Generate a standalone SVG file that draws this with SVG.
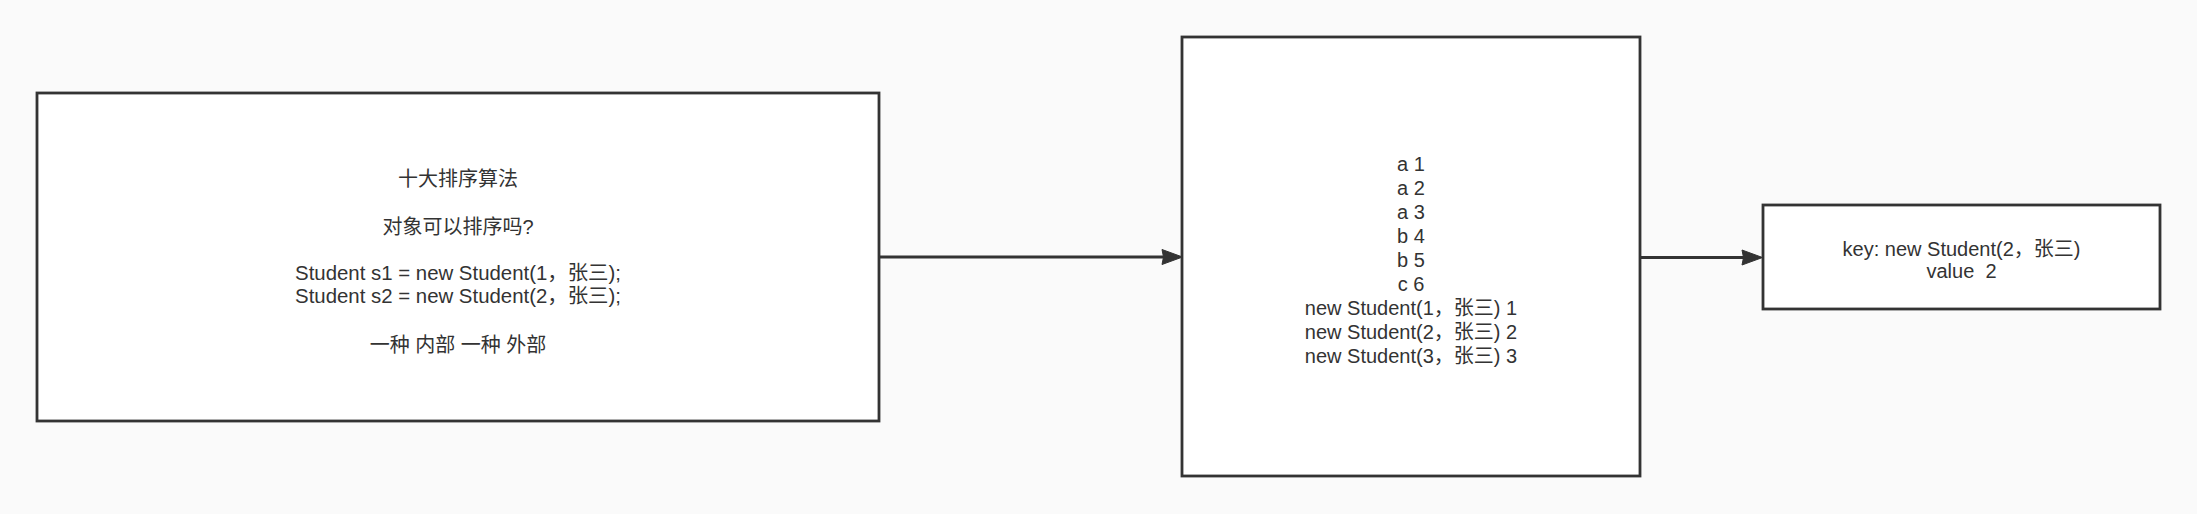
<svg xmlns="http://www.w3.org/2000/svg" width="2197" height="514" viewBox="0 0 2197 514">
  <style>
    .box { fill: #ffffff; stroke: #333333; stroke-width: 2.8; }
    .edge { fill: none; stroke: #333333; stroke-width: 2.8; }
    .head { fill: #333333; stroke: #333333; stroke-width: 1; stroke-linejoin: miter; }
    .t { font-family: "Liberation Sans", "Noto Sans CJK SC", sans-serif; font-size: 20px; fill: #333333; text-anchor: middle; }
    .w { font-size: 20.4px; }
  </style>
  <rect x="0" y="0" width="2197" height="514" fill="#fafafa"/>
  <g id="connectors">
    <path class="edge" d="M 879 257 L 1164 257"/>
    <path class="head" d="M 1182.5 257 L 1162 249.5 L 1163.5 257 L 1162 264.5 Z"/>
    <path class="edge" d="M 1640 257.5 L 1744 257.5"/>
    <path class="head" d="M 1762.5 257.5 L 1742 250 L 1743.5 257.5 L 1742 265 Z"/>
  </g>
  <g id="node-1">
    <rect class="box" x="37" y="93" width="842" height="328"/>
    <text class="t" x="458" y="186">十大排序算法</text>
    <text class="t" x="458" y="234">对象可以排序吗?</text>
    <text class="t w" x="458" y="280">Student s1 = new Student(1，张三);</text>
    <text class="t w" x="458" y="302.7">Student s2 = new Student(2，张三);</text>
    <text class="t" x="458" y="352">一种 内部 一种 外部</text>
  </g>
  <g id="node-2">
    <rect class="box" x="1182" y="37" width="458" height="439"/>
    <text class="t" x="1411" y="170.7">a 1</text>
    <text class="t" x="1411" y="194.7">a 2</text>
    <text class="t" x="1411" y="218.7">a 3</text>
    <text class="t" x="1411" y="242.7">b 4</text>
    <text class="t" x="1411" y="266.7">b 5</text>
    <text class="t" x="1411" y="290.7">c 6</text>
    <text class="t" x="1411" y="314.7">new Student(1，张三) 1</text>
    <text class="t" x="1411" y="338.7">new Student(2，张三) 2</text>
    <text class="t" x="1411" y="362.7">new Student(3，张三) 3</text>
  </g>
  <g id="node-3">
    <rect class="box" x="1763" y="205" width="397" height="104"/>
    <text class="t" x="1961.5" y="256">key: new Student(2，张三)</text>
    <text class="t" x="1961.5" y="278.3" xml:space="preserve">value  2</text>
  </g>
</svg>
